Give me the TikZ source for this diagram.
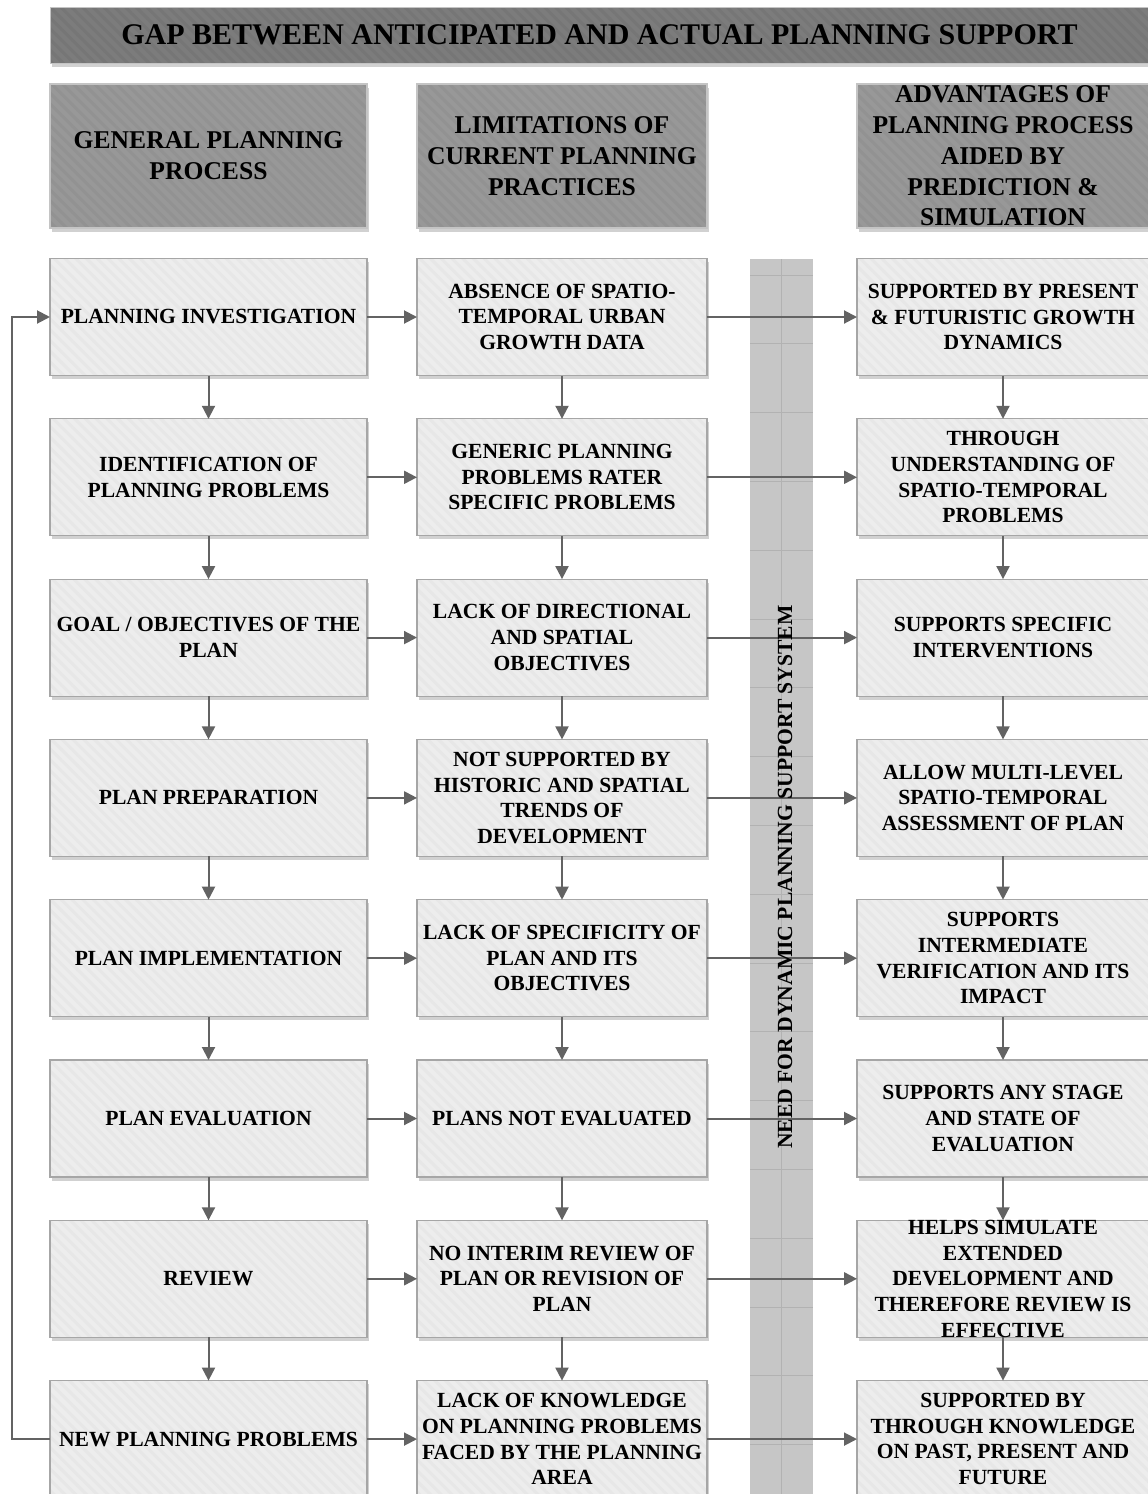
\documentclass[tikz,border=0pt]{standalone}
\usepackage{fontspec}
\setmainfont{Liberation Serif}
\usetikzlibrary{arrows.meta,shadows,patterns.meta}

\definecolor{titlefill}{HTML}{7C7C7C}
\definecolor{titlehatch}{HTML}{767676}
\definecolor{headfill}{HTML}{989898}
\definecolor{headhatch}{HTML}{929292}
\definecolor{headline}{HTML}{C4C4C4}
\definecolor{boxfill}{HTML}{EDEDED}
\definecolor{boxhatch}{HTML}{E7E7E7}
\definecolor{boxline}{HTML}{A6A6A6}
\definecolor{barfill}{HTML}{C6C6C6}
\definecolor{barline}{HTML}{B2B2B2}
\definecolor{arrowgray}{HTML}{636363}

\tikzset{
  shade box/.style={drop shadow={shadow xshift=1.2pt, shadow yshift=-1.8pt, opacity=.18, fill=black}},
  titlebox/.style={shade box, fill=titlefill,
    postaction={pattern={Lines[angle=-45,distance=3.8pt,line width=1.5pt]}, pattern color=titlehatch},
    postaction={draw=headline, line width=0.5pt},
    minimum width=549.5pt, minimum height=28pt, inner sep=0pt, outer sep=0pt,
    font=\bfseries\fontsize{15}{18}\selectfont},
  headbox/.style={shade box, fill=headfill,
    postaction={pattern={Lines[angle=-45,distance=3.8pt,line width=1.5pt]}, pattern color=headhatch},
    postaction={draw=headline, line width=0.6pt},
    minimum height=72pt, inner sep=0pt, outer sep=0pt, align=center,
    font=\bfseries\fontsize{12.8}{15.4}\selectfont},
  stagebox/.style={shade box, fill=boxfill,
    postaction={pattern={Lines[angle=-45,distance=3.8pt,line width=1.5pt]}, pattern color=boxhatch},
    postaction={draw=boxline, line width=0.6pt},
    minimum height=58.5pt, inner sep=0pt, outer sep=0pt, align=center,
    font=\bfseries\fontsize{10.8}{12.8}\selectfont},
  colA/.style={stagebox, minimum width=158.5pt},
  colB/.style={stagebox, minimum width=145pt},
  colC/.style={stagebox, minimum width=146pt},
  conn/.style={draw=arrowgray, line width=1pt, -{Triangle[length=6.5pt,width=6.5pt]}},
}

\begin{document}
\begin{tikzpicture}[x=0.5pt,y=-0.5pt]
\useasboundingbox (0,0) rectangle (1147,1494);

% title and column headings
\node[titlebox] (title) at (599.5,35) {GAP BETWEEN ANTICIPATED AND ACTUAL PLANNING SUPPORT};
\node[headbox, minimum width=158.5pt] (hA) at (208.5,156) {GENERAL PLANNING\\PROCESS};
\node[headbox, minimum width=145pt] (hB) at (562,156) {LIMITATIONS OF\\CURRENT PLANNING\\PRACTICES};
\node[headbox, minimum width=146pt] (hC) at (1003,156) {ADVANTAGES OF\\PLANNING PROCESS\\AIDED BY\\PREDICTION \&\\SIMULATION};

% central band
\fill[barfill] (750,259) rectangle (813,1500);
\draw[barline, line width=0.5pt] (781.5,259) -- (781.5,1500);
\foreach \k in {0,...,17}
  \draw[barline, line width=0.5pt] (750,275+68.8*\k) -- (813,275+68.8*\k);

% general planning process
\node[colA] (a1) at (208.5,317.0)  {PLANNING INVESTIGATION};
\node[colA] (a2) at (208.5,477.3)  {IDENTIFICATION OF\\PLANNING PROBLEMS};
\node[colA] (a3) at (208.5,637.6)  {GOAL / OBJECTIVES OF THE\\PLAN};
\node[colA] (a4) at (208.5,797.9)  {PLAN PREPARATION};
\node[colA] (a5) at (208.5,958.2)  {PLAN IMPLEMENTATION};
\node[colA] (a6) at (208.5,1118.5) {PLAN EVALUATION};
\node[colA] (a7) at (208.5,1278.8) {REVIEW};
\node[colA] (a8) at (208.5,1439.1) {NEW PLANNING PROBLEMS};

% limitations of current practices
\node[colB] (b1) at (562,317.0)  {ABSENCE OF SPATIO-\\TEMPORAL URBAN\\GROWTH DATA};
\node[colB] (b2) at (562,477.3)  {GENERIC PLANNING\\PROBLEMS RATER\\SPECIFIC PROBLEMS};
\node[colB] (b3) at (562,637.6)  {LACK OF DIRECTIONAL\\AND SPATIAL\\OBJECTIVES};
\node[colB] (b4) at (562,797.9)  {NOT SUPPORTED BY\\HISTORIC AND SPATIAL\\TRENDS OF\\DEVELOPMENT};
\node[colB] (b5) at (562,958.2)  {LACK OF SPECIFICITY OF\\PLAN AND ITS\\OBJECTIVES};
\node[colB] (b6) at (562,1118.5) {PLANS NOT EVALUATED};
\node[colB] (b7) at (562,1278.8) {NO INTERIM REVIEW OF\\PLAN OR REVISION OF\\PLAN};
\node[colB] (b8) at (562,1439.1) {LACK OF KNOWLEDGE\\ON PLANNING PROBLEMS\\FACED BY THE PLANNING\\AREA};

% advantages with prediction and simulation
\node[colC] (c1) at (1003,317.0)  {SUPPORTED BY PRESENT\\\& FUTURISTIC GROWTH\\DYNAMICS};
\node[colC] (c2) at (1003,477.3)  {THROUGH\\UNDERSTANDING OF\\SPATIO-TEMPORAL\\PROBLEMS};
\node[colC] (c3) at (1003,637.6)  {SUPPORTS SPECIFIC\\INTERVENTIONS};
\node[colC] (c4) at (1003,797.9)  {ALLOW MULTI-LEVEL\\SPATIO-TEMPORAL\\ASSESSMENT OF PLAN};
\node[colC] (c5) at (1003,958.2)  {SUPPORTS\\INTERMEDIATE\\VERIFICATION AND ITS\\IMPACT};
\node[colC] (c6) at (1003,1118.5) {SUPPORTS ANY STAGE\\AND STATE OF\\EVALUATION};
\node[colC] (c7) at (1003,1278.8) {HELPS SIMULATE\\EXTENDED\\DEVELOPMENT AND\\THEREFORE REVIEW IS\\EFFECTIVE};
\node[colC] (c8) at (1003,1439.1) {SUPPORTED BY\\THROUGH KNOWLEDGE\\ON PAST, PRESENT AND\\FUTURE};

% connectors
\foreach \i in {1,...,8} {
  \draw[conn] (a\i.east) -- (b\i.west);
  \draw[conn] (b\i.east) -- (c\i.west);
}
\foreach \i/\j in {1/2,2/3,3/4,4/5,5/6,6/7,7/8} {
  \draw[conn] (a\i.south) -- (a\j.north);
  \draw[conn] (b\i.south) -- (b\j.north);
  \draw[conn] (c\i.south) -- (c\j.north);
}

% feedback loop
\coordinate (loopB) at (12,1439.1);
\coordinate (loopT) at (12,317.0);
\draw[conn] (a8.west) -- (loopB) -- (loopT) -- (a1.west);

% band label
\node[rotate=90, font=\bfseries\fontsize{10.8}{12.8}\selectfont, inner sep=0pt] (need) at (785,877)
  {NEED FOR DYNAMIC PLANNING SUPPORT SYSTEM};
\end{tikzpicture}
\end{document}
